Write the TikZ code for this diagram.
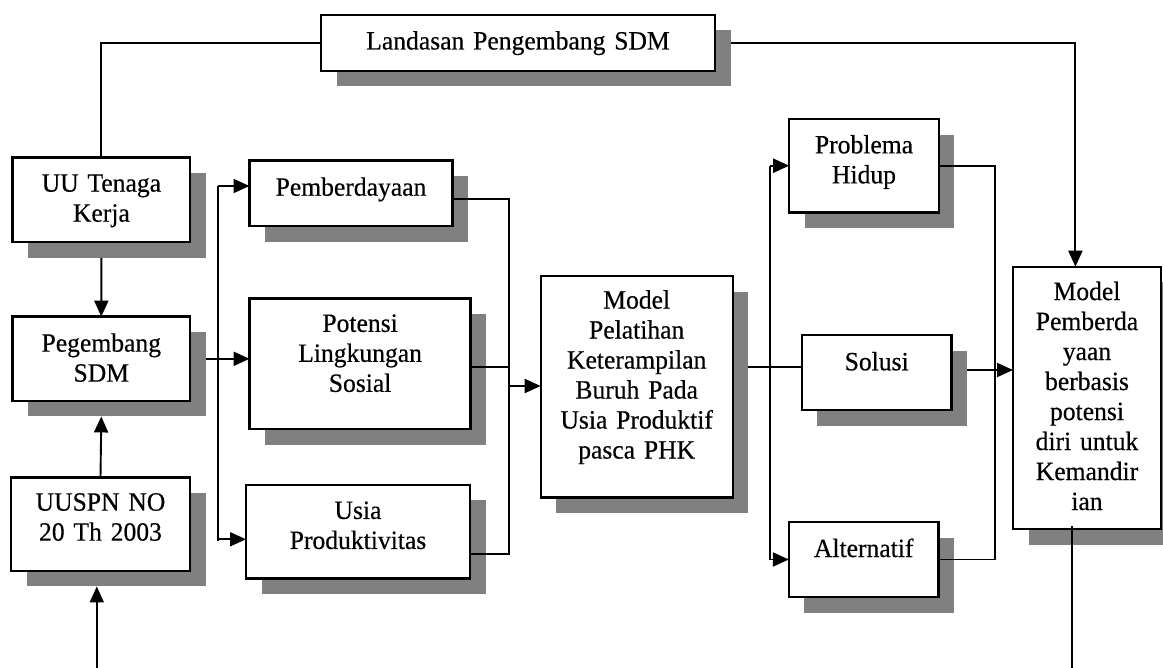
\documentclass[tikz,border=0pt]{standalone}
\usepackage{fontspec}
\setmainfont{Liberation Serif}[FakeStretch=0.97,FakeBold=0.4]
\usetikzlibrary{arrows.meta}
\usetikzlibrary{shadows}

\newcommand{\hurufkotak}{\fontsize{26.4}{30}\selectfont}

\begin{document}
\begin{tikzpicture}
[x=1pt,y=-1pt,%
  kotak/.style={draw,line width=2.4pt,fill=white,inner sep=0pt,outer sep=0pt,%
    drop shadow={shadow xshift=15.5pt,shadow yshift=-15.5pt,fill=black!50,opacity=1}},%
  isi/.style={anchor=base,align=center,inner sep=0pt,font=\hurufkotak},%
  garis/.style={-,line width=1.9pt},%
  panah/.style={-{Triangle[length=16pt,width=14pt]},line width=1.9pt}]
\useasboundingbox (0,0) rectangle (1163,668);

\node[kotak,minimum width=394pt,minimum height=56pt] (lnd) at (518,43) {};
\node[kotak,minimum width=177.6pt,minimum height=84.6pt] (uu) at (101.4,200) {};
\node[kotak,minimum width=177.4pt,minimum height=84.3pt] (peg) at (101.3,358.8) {};
\node[kotak,minimum width=179pt,minimum height=93.3pt] (uuspn) at (100.5,524.3) {};
\node[kotak,minimum width=203pt,minimum height=65.6pt] (pbd) at (351,193.5) {};
\node[kotak,minimum width=221pt,minimum height=130.7pt] (pot) at (360.1,363.7) {};
\node[kotak,minimum width=224pt,minimum height=93.7pt] (usia) at (358,531.8) {};
\node[kotak,minimum width=192pt,minimum height=221.3pt] (mpl) at (636.7,386.7) {};
\node[kotak,minimum width=149.6pt,minimum height=93.3pt] (prb) at (864,165.7) {};
\node[kotak,minimum width=149.6pt,minimum height=75pt] (sol) at (876.7,372.8) {};
\node[kotak,minimum width=149.7pt,minimum height=75pt] (alt) at (863.7,559.5) {};
\node[kotak,minimum width=148pt,minimum height=262.3pt] (mpb) at (1087,397.9) {};

\node[isi,text width=380pt] (lnd-t) at ([yshift=-34.5pt]lnd.north) {Landasan Pengembang SDM};
\node[isi,text width=170pt] (uu-t) at ([yshift=-34pt]uu.north) {UU Tenaga\\Kerja};
\node[isi,text width=170pt] (peg-t) at ([yshift=-35pt]peg.north) {Pegembang\\SDM};
\node[isi,text width=170pt] (uuspn-t) at ([yshift=-33pt]uuspn.north) {UUSPN NO\\20 Th 2003};
\node[isi,text width=195pt] (pbd-t) at ([yshift=-35pt]pbd.north) {Pemberdayaan};
\node[isi,text width=210pt] (pot-t) at ([yshift=-33.5pt]pot.north) {Potensi\\Lingkungan\\Sosial};
\node[isi,text width=215pt] (usia-t) at ([yshift=-34pt]usia.north) {Usia\\Produktivitas};
\node[isi,text width=185pt] (mpl-t) at ([yshift=-32.5pt]mpl.north) {Model\\Pelatihan\\Keterampilan\\Buruh Pada\\Usia Produktif\\pasca PHK};
\node[isi,text width=140pt] (prb-t) at ([yshift=-34.3pt]prb.north) {Problema\\Hidup};
\node[isi,text width=140pt] (sol-t) at ([yshift=-35pt]sol.north) {Solusi};
\node[isi,text width=140pt] (alt-t) at ([yshift=-35pt]alt.north) {Alternatif};
\node[isi,text width=140pt] (mpb-t) at ([yshift=-33.3pt]mpb.north) {Model\\Pemberda\\yaan\\berbasis\\potensi\\diri untuk\\Kemandir\\ian};

\coordinate (bawah) at (96.8,668);
\coordinate (bagi) at (217.8,0);
\coordinate (satu) at (509,386);
\coordinate (cabang) at (770.4,0);
\coordinate (dua) at (994.6,370);
\coordinate (akhir) at (1072.3,668);

\draw[garis] (lnd.west) -| (uu.north);
\draw[panah] ([xshift=15.5pt]lnd.east) -| ([xshift=-11.6pt]mpb.north);
\draw[panah] ([yshift=-15.5pt]uu.south) -- (peg.north);
\draw[panah] (uuspn.north) -- ([yshift=-15.5pt]peg.south);
\draw[panah] (bawah) -- ([yshift=-15.5pt]bawah |- uuspn.south);

\draw[garis] ([yshift=7.5pt]bagi |- pbd.west) -- ([yshift=-9pt]bagi |- usia.west);
\draw[panah] ([yshift=7.5pt]bagi |- pbd.west) -- ([yshift=7.5pt]pbd.west);
\draw[panah] ([xshift=15.5pt]peg.east) -- (peg.east -| pot.west);
\draw[panah] ([yshift=-7.5pt]bagi |- usia.west) -- ([yshift=-7.5pt]usia.west);

\draw[garis] ([yshift=-5.2pt]pbd.east) -| (satu) |- ([yshift=-21.9pt]usia.east);
\draw[garis] ([yshift=-3.3pt]pot.east) -- ([yshift=-3.3pt]pot.east -| satu);
\draw[panah] (satu) -- (satu -| mpl.west);

\draw[garis] ([xshift=15.5pt,yshift=19.7pt]mpl.east) -- ([yshift=5.8pt]sol.west);
\draw[garis] (cabang |- prb.west) -- (cabang |- alt.west);
\draw[panah] (cabang |- prb.west) -- (prb.west);
\draw[panah] (cabang |- alt.west) -- (alt.west);

\draw[garis] (prb.east) -| (dua) |- (alt.east);
\draw[panah] ([xshift=15.5pt,yshift=2.8pt]sol.east) -- (dua -| mpb.west);
\draw[garis] ([xshift=-14.7pt,yshift=3pt]mpb.south) -- (akhir);
\end{tikzpicture}
\end{document}
